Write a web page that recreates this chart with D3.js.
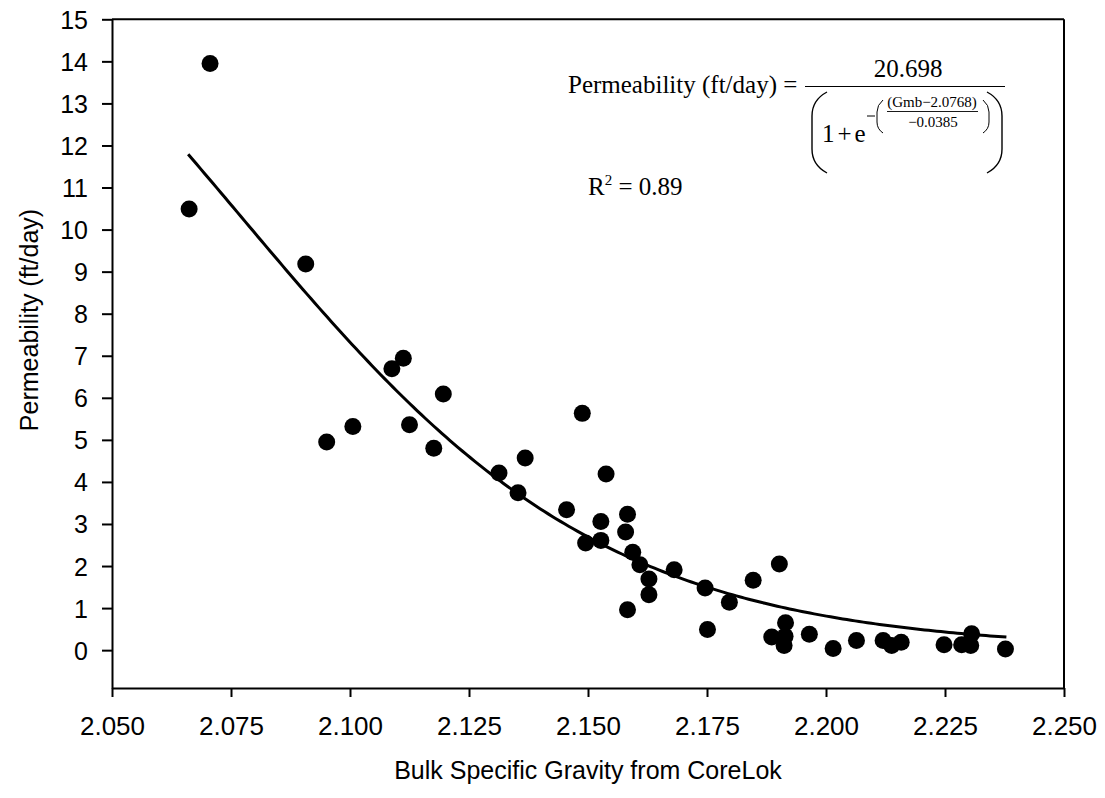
<!DOCTYPE html>
<html>
<head>
<meta charset="utf-8">
<script src="https://cdn.jsdelivr.net/npm/d3@7"></script>
<style>
  html, body { margin: 0; padding: 0; background: #fff; }
  svg { display: block; }
</style>
</head>
<body>
<svg id="chart" width="1105" height="798"></svg>
<script>
// ---- data ----
const gmb = [2.0662, 2.0706, 2.0907, 2.0951, 2.1006, 2.1088, 2.1112, 2.1125, 2.1176, 2.1196,
             2.1313, 2.1353, 2.1368, 2.1455, 2.1488, 2.1538,
             2.1495, 2.1527, 2.1527, 2.1583, 2.1579, 2.1594, 2.1609, 2.1628, 2.1628, 2.1583,
             2.1681, 2.1746, 2.1751, 2.1797, 2.1847, 2.1902, 2.1915, 2.1886, 2.1914, 2.1912,
             2.1965, 2.2015, 2.2064, 2.2120, 2.2138, 2.2158, 2.2248, 2.2285, 2.2304, 2.2306, 2.2377];
const perm = [10.49, 13.95, 9.18, 4.95, 5.32, 6.69, 6.94, 5.36, 4.80, 6.09,
              4.21, 3.74, 4.57, 3.34, 5.63, 4.19,
              2.55, 3.06, 2.61, 3.23, 2.81, 2.33, 2.03, 1.69, 1.32, 0.96,
              1.91, 1.48, 0.49, 1.14, 1.66, 2.05, 0.65, 0.31, 0.33, 0.11,
              0.38, 0.04, 0.23, 0.23, 0.11, 0.19, 0.13, 0.13, 0.11, 0.39, 0.03];
const xTicks = [2.050, 2.075, 2.100, 2.125, 2.150, 2.175, 2.200, 2.225, 2.250];
const yTicks = [0, 1, 2, 3, 4, 5, 6, 7, 8, 9, 10, 11, 12, 13, 14, 15];
// fitted model shown on the chart: a / (1 + exp(-(x - x0)/b))
const fitA = 20.698, fitX0 = 2.0768, fitB = -0.0385;
const fitRange = [2.0660, 2.2379];
const xTitle = "Bulk Specific Gravity from CoreLok";
const yTitle = "Permeability (ft/day)";

// ---- layout ----
const svg = d3.select("#chart");
const L = 112, R = 1064, T = 19.3, B = 688;
const x = d3.scaleLinear().domain([2.05, 2.25]).range([L, R]);
const y = d3.scaleLinear().domain([-0.9, 15]).range([B, T]);

// fit curve
const fitFn = g => fitA / (1 + Math.exp(-(g - fitX0) / fitB));
const fitXs = d3.range(0, 201).map(i => fitRange[0] + (fitRange[1] - fitRange[0]) * i / 200);
svg.append("path")
  .datum(fitXs)
  .attr("fill", "none")
  .attr("stroke", "#000")
  .attr("stroke-width", 3)
  .attr("d", d3.line().x(d => x(d)).y(d => y(fitFn(d))));

// points
svg.append("g").selectAll("circle")
  .data(gmb.map((g, i) => [g, perm[i]]))
  .join("circle")
  .attr("cx", d => x(d[0]))
  .attr("cy", d => y(d[1]))
  .attr("r", 8.5)
  .attr("fill", "#000");

// frame (top & right)
svg.append("line").attr("x1", L).attr("x2", R).attr("y1", T).attr("y2", T)
  .attr("stroke", "#000").attr("stroke-width", 2);
svg.append("line").attr("x1", R).attr("x2", R).attr("y1", T).attr("y2", B)
  .attr("stroke", "#000").attr("stroke-width", 2);

// axes
const xAxis = svg.append("g").attr("transform", `translate(0,${B})`)
  .call(d3.axisBottom(x).tickValues(xTicks).tickFormat(d3.format(".3f")).tickSize(9).tickPadding(20).tickSizeOuter(0));
const yAxis = svg.append("g").attr("transform", `translate(${L},0)`)
  .call(d3.axisLeft(y).tickValues(yTicks).tickFormat(d3.format("d")).tickSize(10).tickPadding(14).tickSizeOuter(0));
[xAxis, yAxis].forEach(a => {
  a.select(".domain").attr("stroke-width", 2).attr("stroke", "#000");
  a.selectAll(".tick line").attr("stroke-width", 2).attr("stroke", "#000");
  a.selectAll("text").attr("font-family", "Liberation Sans, Arial, sans-serif").attr("fill", "#000");
});
xAxis.selectAll("text").attr("font-size", 26);
yAxis.selectAll("text").attr("font-size", 25).attr("dy", "0.36em");

// axis titles
svg.append("text").attr("x", (L + R) / 2 + 0).attr("y", 779)
  .attr("text-anchor", "middle").attr("font-family", "Liberation Sans, Arial, sans-serif")
  .attr("font-size", 25).text(xTitle);
svg.append("text").attr("transform", `translate(38,${320}) rotate(-90)`)
  .attr("text-anchor", "middle").attr("font-family", "Liberation Sans, Arial, sans-serif")
  .attr("font-size", 25).text(yTitle);

// equation annotation
const serif = "Liberation Serif, Times New Roman, serif";
const eq = svg.append("g").attr("font-family", serif).attr("fill", "#000");
eq.append("text").attr("x", 568).attr("y", 93).attr("font-size", 25).text("Permeability (ft/day) =");
eq.append("text").attr("x", 908).attr("y", 77).attr("font-size", 25).attr("text-anchor", "middle").text("20.698");
eq.append("line").attr("x1", 805).attr("x2", 1005).attr("y1", 86.5).attr("y2", 86.5).attr("stroke", "#000").attr("stroke-width", 1.2);
// big parentheses
eq.append("path").attr("d", "M827,92 Q812,100 812,116 L812,149 Q812,165 827,173")
  .attr("fill", "none").attr("stroke", "#000").attr("stroke-width", 1.4);
eq.append("path").attr("d", "M987,92 Q1002,100 1002,116 L1002,149 Q1002,165 987,173")
  .attr("fill", "none").attr("stroke", "#000").attr("stroke-width", 1.4);
const onePlus = eq.append("text").attr("x", 822).attr("y", 142).attr("font-size", 25);
onePlus.append("tspan").text("1");
onePlus.append("tspan").attr("dx", 3).text("+");
onePlus.append("tspan").attr("dx", 3).text("e");
// exponent
eq.append("line").attr("x1", 867).attr("x2", 875).attr("y1", 116).attr("y2", 116).attr("stroke", "#000").attr("stroke-width", 1);
eq.append("path").attr("d", "M883,100 Q877,105 877,112 L877,122 Q877,129 883,133")
  .attr("fill", "none").attr("stroke", "#000").attr("stroke-width", 1);
eq.append("path").attr("d", "M983,100 Q989,105 989,112 L989,122 Q989,129 983,133")
  .attr("fill", "none").attr("stroke", "#000").attr("stroke-width", 1);
eq.append("text").attr("x", 932).attr("y", 107).attr("font-size", 15).attr("text-anchor", "middle").text("(Gmb\u22122.0768)");
eq.append("line").attr("x1", 887).attr("x2", 978).attr("y1", 111.5).attr("y2", 111.5).attr("stroke", "#000").attr("stroke-width", 0.9);
eq.append("text").attr("x", 933).attr("y", 127).attr("font-size", 15).attr("text-anchor", "middle").text("\u22120.0385");
// R squared
const r2 = eq.append("text").attr("x", 588).attr("y", 195).attr("font-size", 25);
r2.append("tspan").text("R");
r2.append("tspan").attr("font-size", 15).attr("dy", -10).text("2");
r2.append("tspan").attr("dy", 10).text(" = 0.89");
</script>
</body>
</html>
